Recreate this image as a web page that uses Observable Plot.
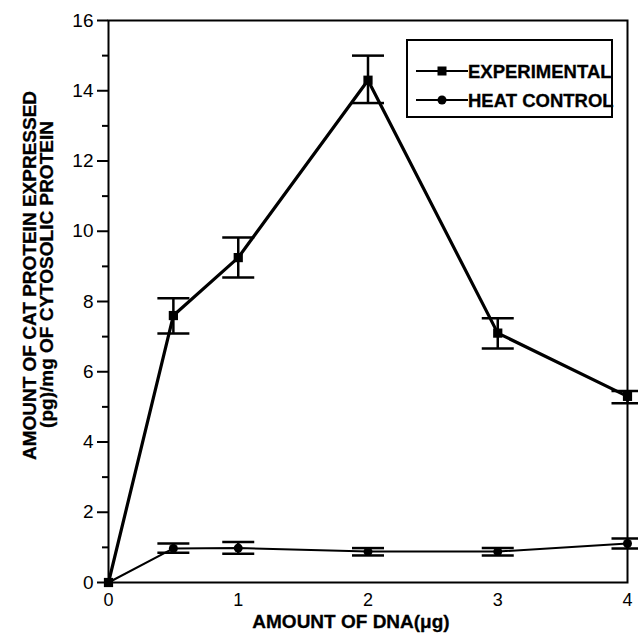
<!DOCTYPE html>
<html>
<head>
<meta charset="utf-8">
<script src="https://cdn.jsdelivr.net/npm/d3@7"></script>
<script src="https://cdn.jsdelivr.net/npm/@observablehq/plot@0.6"></script>
<style>
  html, body { margin: 0; padding: 0; background: #fff; }
</style>
</head>
<body>
<div id="chart"></div>
<script>
// ---- data ----
const dnaAmounts       = [0, 0.5, 1, 2, 3, 4];
const experimental     = [0, 7.6, 9.25, 14.3, 7.1, 5.3];
const experimentalLow  = [0, 7.09, 8.68, 13.65, 6.66, 5.1];
const experimentalHigh = [0, 8.09, 9.82, 15.0, 7.52, 5.45];
const heatControl      = [0, 0.97, 0.98, 0.88, 0.88, 1.11];
const heatLow          = [0, 0.85, 0.82, 0.77, 0.77, 0.97];
const heatHigh         = [0, 1.11, 1.15, 0.98, 0.98, 1.25];
const seriesNames      = ["EXPERIMENTAL", "HEAT CONTROL"];
const yMajorTicks      = [0, 2, 4, 6, 8, 10, 12, 14, 16];
const yMinorTicks      = [1, 3, 5, 7, 9, 11, 13, 15];
const xMajorTicks      = [0, 1, 2, 3, 4];
const yTitleLines      = ["AMOUNT OF CAT PROTEIN EXPRESSED", "(pg)/mg OF CYTOSOLIC PROTEIN"];
const xTitle           = "AMOUNT OF DNA(\u03bcg)";

// ---- tables built from the arrays ----
const expData  = dnaAmounts.map((x, i) => ({x, y: experimental[i], lo: experimentalLow[i], hi: experimentalHigh[i]}));
const heatData = dnaAmounts.map((x, i) => ({x, y: heatControl[i], lo: heatLow[i], hi: heatHigh[i]}));
const expErr  = expData.filter(d => d.hi > d.lo);
const heatErr = heatData.filter(d => d.hi > d.lo);
const caps = (arr) => arr.flatMap(d => [{x: d.x, y: d.lo}, {x: d.x, y: d.hi}]);

// horizontal error-bar cap drawn as a symbol (pixel width)
const capSymbol = { draw(ctx) { ctx.moveTo(-16, 0); ctx.lineTo(16, 0); } };

// legend drawn as a custom render mark
function legendMark(index, scales, values, dimensions) {
  const g = d3.create("svg:g");
  const right = dimensions.width - dimensions.marginRight;
  const bx = right - 220, by = dimensions.marginTop + 20, bw = 205, bh = 77;
  g.append("rect").attr("x", bx).attr("y", by).attr("width", bw).attr("height", bh)
    .attr("fill", "white").attr("stroke", "black").attr("stroke-width", 2);
  seriesNames.forEach((name, i) => {
    const cy = by + 31 + i * 29;
    g.append("line").attr("x1", bx + 9).attr("x2", bx + 61).attr("y1", cy).attr("y2", cy)
      .attr("stroke", "black").attr("stroke-width", 2);
    if (i === 0) {
      g.append("rect").attr("x", bx + 35 - 4.5).attr("y", cy - 4.5).attr("width", 9).attr("height", 9).attr("fill", "black");
    } else {
      g.append("circle").attr("cx", bx + 35).attr("cy", cy).attr("r", 4.5).attr("fill", "black");
    }
    g.append("text").attr("x", bx + 61).attr("y", cy).attr("dy", "0.36em")
      .attr("text-anchor", "start")
      .attr("font-size", 18.5).attr("font-weight", "bold").attr("fill", "black")
      .attr("stroke", "black").attr("stroke-width", 0.3)
      .text(name);
  });
  return g.node();
}

const chart = Plot.plot({
  width: 638,
  height: 636,
  marginLeft: 108,
  marginRight: 11,
  marginTop: 20,
  marginBottom: 54,
  style: {
    fontFamily: "'Liberation Sans', Arial, Helvetica, sans-serif",
    fontSize: "19px",
    color: "black",
    background: "white",
    overflow: "visible"
  },
  x: { domain: [0, 4] },
  y: { domain: [0, 16] },
  marks: [
    Plot.axisY(yMajorTicks, { tickSize: 11, tickPadding: 4, strokeWidth: 2, label: null, fontSize: 19, tickFormat: d => String(d) }),
    Plot.axisY(yMinorTicks, { tickSize: 6, strokeWidth: 2, label: null, tickFormat: () => "" }),
    Plot.axisX(xMajorTicks, { tickSize: 0, tickPadding: 11, strokeWidth: 2, label: null, fontSize: 18, tickFormat: d => String(d) }),
    Plot.frame({ stroke: "black", strokeWidth: 2 }),
    // error bars
    Plot.ruleX(expErr, { x: "x", y1: "lo", y2: "hi", stroke: "black", strokeWidth: 2.5 }),
    Plot.ruleX(heatErr, { x: "x", y1: "lo", y2: "hi", stroke: "black", strokeWidth: 2.5 }),
    Plot.dot(caps(expErr), { x: "x", y: "y", symbol: capSymbol, stroke: "black", strokeWidth: 2.5, fill: "none" }),
    Plot.dot(caps(heatErr), { x: "x", y: "y", symbol: capSymbol, stroke: "black", strokeWidth: 2.5, fill: "none" }),
    // series
    Plot.line(heatData, { x: "x", y: "y", stroke: "black", strokeWidth: 2 }),
    Plot.line(expData, { x: "x", y: "y", stroke: "black", strokeWidth: 3.2 }),
    Plot.dot(expData, { x: "x", y: "y", symbol: "square", r: 5.2, fill: "black" }),
    Plot.dot(heatData, { x: "x", y: "y", symbol: "circle", r: 4.5, fill: "black" }),
    // axis titles
    Plot.text([yTitleLines[0]], { text: d => d, frameAnchor: "left", textAnchor: "middle", lineAnchor: "middle", rotate: -90, dx: -79, dy: -26, fontSize: 19, fontWeight: "bold", fill: "black", stroke: "black", strokeWidth: 0.3 }),
    Plot.text([yTitleLines[1]], { text: d => d, frameAnchor: "left", textAnchor: "middle", lineAnchor: "middle", rotate: -90, dx: -62, dy: -27, fontSize: 19, fontWeight: "bold", fill: "black", stroke: "black", strokeWidth: 0.3 }),
    Plot.text([xTitle], { text: d => d, frameAnchor: "bottom", textAnchor: "middle", lineAnchor: "middle", dx: -17, dy: 39, fontSize: 19, fontWeight: "bold", fill: "black", stroke: "black", strokeWidth: 0.3 }),
    legendMark
  ]
});
document.getElementById("chart").appendChild(chart);
</script>
</body>
</html>
